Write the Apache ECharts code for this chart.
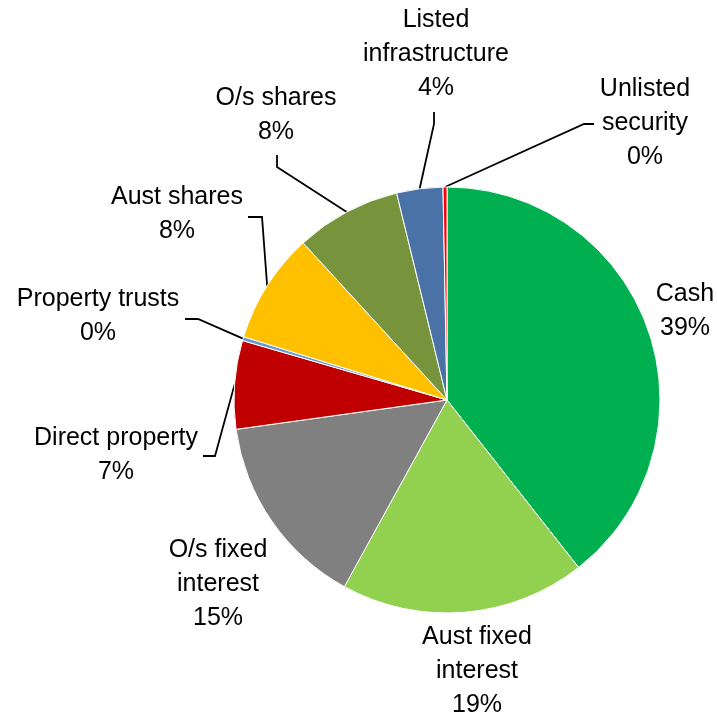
<!DOCTYPE html>
<html>
<head>
<meta charset="utf-8">
<script src="https://cdn.jsdelivr.net/npm/echarts@6/dist/echarts.min.js"></script>
<style>
  html, body { margin: 0; padding: 0; background: #fff; }
  #chart { width: 717px; height: 716px; }
</style>
</head>
<body>
<div id="chart"></div>
<script>
// Asset allocation (% of portfolio)
const categories = [
  'Cash', 'Aust fixed\ninterest', 'O/s fixed\ninterest', 'Direct property',
  'Property trusts', 'Aust shares', 'O/s shares', 'Listed\ninfrastructure',
  'Unlisted\nsecurity'
];
const shares = [39.4, 18.6, 14.8, 6.7, 0.3, 8.4, 8.0, 3.5, 0.3];
const sliceColors = [
  '#00B050', '#92D050', '#808080', '#C00000', '#6A98D4',
  '#FFC000', '#77933C', '#4A72A6', '#FF0000'
];

// Label placement: block centre, plus elbow/end of the leader line (null = no leader)
const labelPlacement = [
  { x: 685, y: 311, line: null },
  { x: 477, y: 671, line: null },
  { x: 218, y: 584, line: null },
  { x: 116, y: 455, line: [[215, 456], [203, 456]] },
  { x: 98,  y: 316, line: [[198, 319], [185, 319]] },
  { x: 177, y: 214, line: [[262, 217], [248, 217]] },
  { x: 276, y: 115, line: [[277, 167], [277, 155]] },
  { x: 436, y: 54,  line: [[434, 124], [434, 112]] },
  { x: 645, y: 123, line: [[584, 124], [594, 124]] }
];

const chart = echarts.init(document.getElementById('chart'), null, { renderer: 'canvas' });

const pieData = categories.map((name, i) => ({
  name: name,
  value: shares[i],
  itemStyle: { color: sliceColors[i] },
  labelLine: { show: labelPlacement[i].line !== null }
}));

chart.setOption({
  backgroundColor: '#ffffff',
  animation: false,
  series: [{
    type: 'pie',
    center: [447, 400],
    radius: 213,
    startAngle: 90,
    clockwise: true,
    percentPrecision: 0,
    avoidLabelOverlap: false,
    data: pieData,
    itemStyle: { borderColor: '#ffffff', borderWidth: 1 },
    label: {
      show: true,
      position: 'outside',
      formatter: '{b}\n{d}%',
      color: '#000000',
      fontFamily: '"Liberation Sans", Arial, sans-serif',
      fontSize: 25,
      lineHeight: 34,
      align: 'center'
    },
    labelLine: {
      show: true,
      length: 10,
      length2: 10,
      lineStyle: { color: '#000000', width: 1.8 }
    },
    emphasis: { disabled: true }
  }]
});

chart.setOption({
  series: [{
    labelLayout: function (params) {
      const p = labelPlacement[params.dataIndex];
      const out = { x: p.x, y: p.y, align: 'center', verticalAlign: 'middle' };
      if (p.line && params.labelLinePoints && params.labelLinePoints.length) {
        const start = params.labelLinePoints[0];
        out.labelLinePoints = [[start[0], start[1]], p.line[0], p.line[1]];
      }
      return out;
    }
  }]
});
</script>
</body>
</html>
